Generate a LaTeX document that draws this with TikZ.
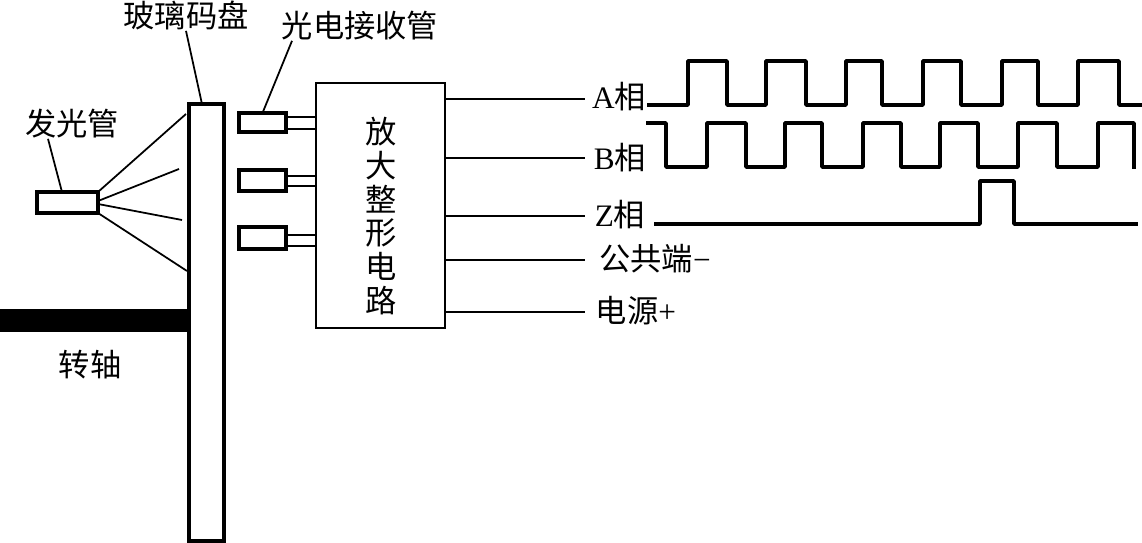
\documentclass[tikz,border=0pt]{standalone}
\usepackage{fontspec}
\setmainfont{Liberation Serif}
\newfontfamily\cjk{Noto Sans CJK SC}
\usetikzlibrary{positioning,calc}

\begin{document}
\begin{tikzpicture}[
    x=0.02cm,y=-0.02cm,
    tube/.style={rectangle,draw,line width=2pt,inner sep=0pt,outer sep=0pt,fill=white},
    cjklabel/.style={inner sep=0pt,align=center,font=\cjk\fontsize{17.8}{19.2}\selectfont},
    wire/.style={line width=1pt},
    wave/.style={line width=2pt,line join=round}
]
    \useasboundingbox (0,0) rectangle (1142,543);

    \node[tube,minimum width=1.22cm,minimum height=0.42cm] (led) at (67.5,202.5) {};
    \node[tube,minimum width=0.7cm,minimum height=8.74cm] (disc) at (206.5,322.5) {};
    \node[tube,minimum width=0.94cm,minimum height=0.38cm] (recva) at (262.5,122.5) {};
    \node[tube,minimum width=0.94cm,minimum height=0.42cm,below=0.76cm of recva] (recvb) {};
    \node[tube,minimum width=0.94cm,minimum height=0.44cm,below=0.72cm of recvb] (recvc) {};
    \node[rectangle,draw,line width=1.2pt,inner sep=0pt,outer sep=0pt,minimum width=2.58cm,minimum height=4.9cm] (amp) at (380.5,205.5) {};
    \node[cjklabel] (amptext) at (381,216) {放\\大\\整\\形\\电\\路};

    \node[rectangle,fill=black,inner sep=0pt,outer sep=0pt,anchor=east,minimum width=3.78cm,minimum height=0.46cm] (shaft) at (disc.west |- 0,320.5) {};

    \node[cjklabel] (ledlabel) at (72,124) {发光管};
    \node[cjklabel] (disclabel) at (186,15) {玻璃码盘};
    \node[cjklabel] (recvlabel) at (360,26) {光电接收管};
    \node[cjklabel] (shaftlabel) at (90,365) {转轴};
    \node[cjklabel] (alabel) at (619,97) {{\rmfamily A}相};
    \node[cjklabel] (blabel) at (620,158) {{\rmfamily B}相};
    \node[cjklabel] (zlabel) at (620,215) {{\rmfamily Z}相};
    \node[cjklabel] (comlabel) at (655,259) {公共端{\rmfamily −}};
    \node[cjklabel] (powlabel) at (636,311) {电源{\rmfamily +}};

    % leaders
    \draw[wire] ([xshift=-0.48cm]ledlabel.south) -- ([xshift=-0.11cm]led.north);
    \draw[wire] ([yshift=-0.02cm]disclabel.south) -- ([xshift=-0.09cm]disc.north);
    \draw[wire] ([xshift=-1.36cm]recvlabel.south) -- (recva.north);

    % light rays
    \coordinate (raya) at (186,114);
    \coordinate (rayb) at (179,169);
    \coordinate (rayc) at (182,220);
    \coordinate (rayd) at (187,271);
    \draw[wire] (led.north east) -- (raya);
    \draw[wire] ([yshift=0.03cm]led.east) -- (rayb);
    \draw[wire] ([yshift=-0.03cm]led.east) -- (rayc);
    \draw[wire] (led.south east) -- (rayd);

    % receiver pins
    \draw[wire] ([yshift=-0.08cm]recva.north east) -- ([yshift=-0.08cm]recva.north east -| amp.west);
    \draw[wire] ([yshift=0.06cm]recva.south east) -- ([yshift=0.06cm]recva.south east -| amp.west);
    \draw[wire] ([yshift=-0.12cm]recvb.north east) -- ([yshift=-0.12cm]recvb.north east -| amp.west);
    \draw[wire] ([yshift=0.1cm]recvb.south east) -- ([yshift=0.1cm]recvb.south east -| amp.west);
    \draw[wire] ([yshift=-0.16cm]recvc.north east) -- ([yshift=-0.16cm]recvc.north east -| amp.west);
    \draw[wire] ([yshift=0.06cm]recvc.south east) -- ([yshift=0.06cm]recvc.south east -| amp.west);

    % outputs
    \coordinate (outa) at (585,99);
    \coordinate (outb) at (585,158);
    \coordinate (outz) at (585,216);
    \coordinate (outcom) at (585,260);
    \coordinate (outpow) at (585,312);
    \draw[wire] (outa -| amp.east) -- (outa);
    \draw[wire] (outb -| amp.east) -- (outb);
    \draw[wire] (outz -| amp.east) -- (outz);
    \draw[wire] (outcom -| amp.east) -- (outcom);
    \draw[wire] (outpow -| amp.east) -- (outpow);

    % pulse trains
    \draw[wave] (647,105) -| (688,61) -| (727,105) -| (766,61) -| (806,105) -| (846,61) -| (882,105) -| (923,61) -| (961,105) -| (1002,61) -| (1038,105) -| (1078,61) -| (1119,105) -- (1142,105);
    \draw[wave] (646,123) -| (666,167) -| (707,123) -| (746,167) -| (785,123) -| (822,167) -| (863,123) -| (901,167) -| (940,123) -| (978,167) -| (1018,123) -| (1057,167) -| (1098,123) -| (1134,169);
    \draw[wave] (654,224) -| (980,181) -| (1014,224) -- (1138,224);
\end{tikzpicture}
\end{document}
